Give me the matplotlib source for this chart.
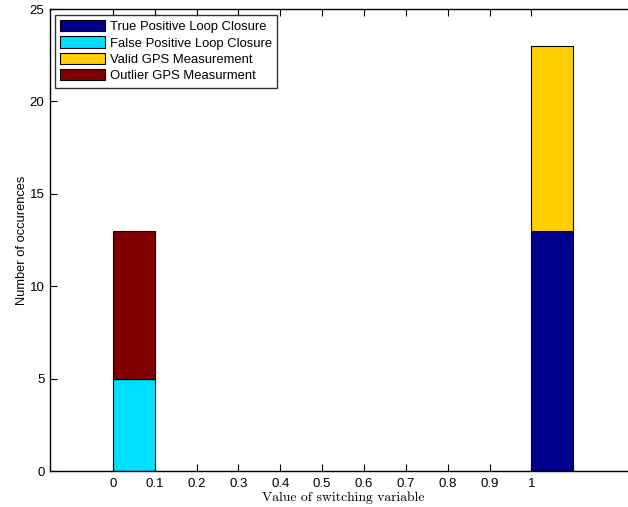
import numpy as np
import matplotlib.pyplot as plt
from matplotlib.patches import Patch

# bin edges of the switching variable histogram
bins = [0.0, 1.0]
bin_width = 0.1

series_names = ['True Positive Loop Closure', 'False Positive Loop Closure',
                'Valid GPS Measurement', 'Outlier GPS Measurment']
true_pos = [0, 13]
false_pos = [5, 0]
valid_gps = [0, 10]
outlier_gps = [8, 0]
colors = ['#00008f', '#00dfff', '#ffcf00', '#800000']

xticks = [0, 0.1, 0.2, 0.3, 0.4, 0.5, 0.6, 0.7, 0.8, 0.9, 1]
yticks = [0, 5, 10, 15, 20, 25]

plt.rcParams['font.family'] = ['Liberation Sans', 'DejaVu Sans']

fig = plt.figure(figsize=(6.28, 5.07), dpi=100)
ax = fig.add_axes([50 / 628, 36 / 507, 586 / 628, 462 / 507])

bottom = np.zeros(len(bins))
for vals, c in zip([true_pos, false_pos, valid_gps, outlier_gps], colors):
    vals = np.array(vals, dtype=float)
    mask = vals > 0
    ax.bar(np.array(bins)[mask], vals[mask], width=bin_width, bottom=bottom[mask],
           align='edge', color=c, edgecolor='black', linewidth=0.8)
    bottom += vals

ax.set_xlim(-0.15, 1.25)
ax.set_ylim(0, 25)
ax.set_xticks(xticks)
ax.set_xticklabels([('%g' % t) for t in xticks])
ax.set_yticks(yticks)
ax.tick_params(direction='in', length=5, width=0.8, labelsize=9.5,
               top=True, right=False, pad=5)
ax.tick_params(axis='y', pad=4)
for s in ax.spines.values():
    s.set_linewidth(1.0)
ax.spines['right'].set_visible(False)

ax.set_xlabel('Value of switching variable', family='cmr10', fontsize=9.8, labelpad=1)
ax.set_ylabel('Number of occurences', fontsize=9.3, labelpad=1)

handles = [Patch(facecolor=c, edgecolor='black', linewidth=0.8) for c in colors]
leg = ax.legend(handles, series_names, loc='upper left', bbox_to_anchor=(0.008, 0.988),
                fontsize=9.4, frameon=True, fancybox=False, edgecolor='black',
                handlelength=3.4, handleheight=0.95, handletextpad=0.4,
                labelspacing=0.25, borderpad=0.42, borderaxespad=0.0)
leg.get_frame().set_linewidth(1.0)

fig.savefig('out.png', dpi=100)
